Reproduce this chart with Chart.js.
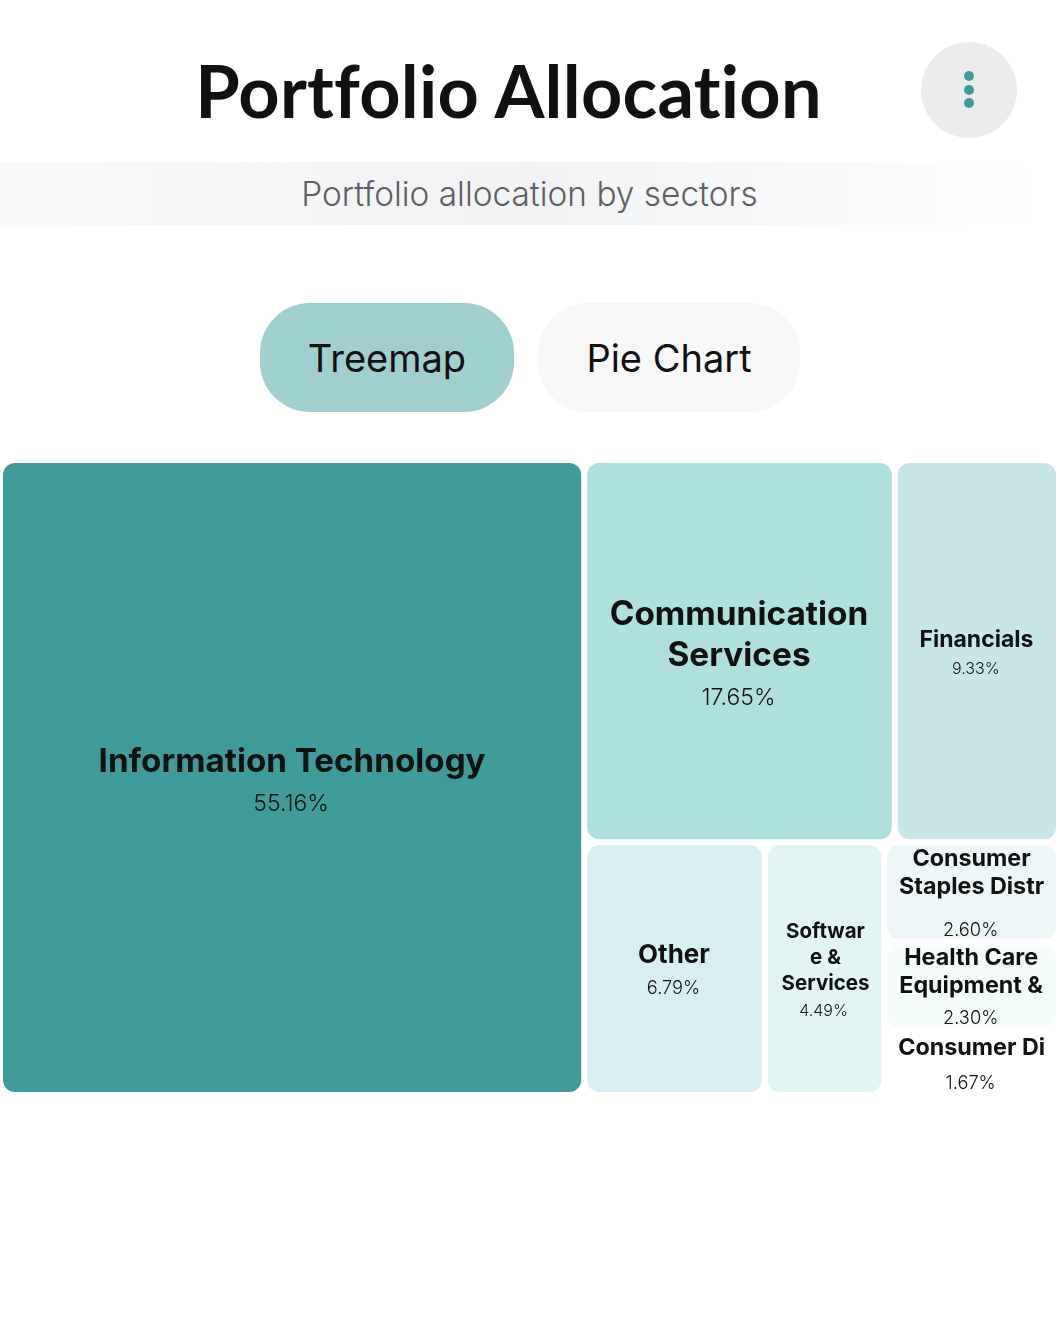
<!DOCTYPE html>
<html>
<head>
<meta charset="utf-8">
<title>Portfolio Allocation</title>
<script src="https://cdn.jsdelivr.net/npm/chart.js@4"></script>
<style>
    html, body { margin: 0; padding: 0; background: #fff; }
    body { position: relative; width: 1059px; height: 1318px; overflow: hidden; font-family: Inter, sans-serif; color: #111; }
    h1 { position: absolute; left: 0; width: 1017px; top: 45px; margin: 0; text-align: center; font: 700 72px/90px Lato, sans-serif; font-variant-ligatures: none; letter-spacing: 0.25px; }
    .menu { position: absolute; left: 921px; top: 42px; width: 96px; height: 96px; border-radius: 50%; background: #ebebeb; }
    .menu i { position: absolute; left: 43px; width: 10px; height: 10px; border-radius: 50%; background: #3f9c9b; }
    .sub { position: absolute; left: 0; top: 162px; width: 1059px; height: 63px; line-height: 65px; text-align: center; font-size: 33.4px; font-weight: 300; color: #5f5f5f;
        background: linear-gradient(90deg, #fafafb 0%, #f1f2f4 50%, #ffffff 98%); }
    .btn { position: absolute; top: 303px; height: 109px; line-height: 111px; border-radius: 50px; text-align: center; font-size: 38px; }
    #btnTree { left: 260px; width: 254px; background: #9fcfce; }
    #btnPie { left: 538px; width: 262px; background: #f8f8f8; }
    #treemap { position: absolute; left: 0; top: 460px; }
</style>
</head>
<body>
<h1>Portfolio Allocation</h1>
<div class="menu"><i style="top:29px"></i><i style="top:43px"></i><i style="top:56px"></i></div>
<div class="sub">Portfolio allocation by sectors</div>
<div class="btn" id="btnTree">Treemap</div>
<div class="btn" id="btnPie">Pie Chart</div>
<canvas id="treemap" width="1059" height="635"></canvas>

<script>
// Data
const categories = ['Information Technology', 'Communication Services', 'Financials', 'Other',
    'Software & Services', 'Consumer Staples Distr', 'Health Care Equipment &', 'Consumer Di'];
const shares = [55.16, 17.65, 9.33, 6.79, 4.49, 2.60, 2.30, 1.67];
const shareLabels = ['55.16%', '17.65%', '9.33%', '6.79%', '4.49%', '2.60%', '2.30%', '1.67%'];
// how the names wrap inside the cells ('' is a line that got clipped away)
const wrappedNames = [
    ['Information Technology'],
    ['Communication', 'Services'],
    ['Financials'],
    ['Other'],
    ['Softwar', 'e &', 'Services'],
    ['Consumer', 'Staples Distr', ''],
    ['Health Care', 'Equipment &'],
    ['Consumer Di']
];
// Nesting of the treemap, each level splits the other way
const tree = [0, [[1, 2], [3, 4, [5, 6, 7]]]];

const cellColors = ['#3e9b9a', '#aee0de', '#c6e7e6', '#d7eff0', '#e1f3f3', '#edf7f8', '#f5fcfc', '#ffffff'];
const nameFonts = [33.2, 33.4, 23, 26, 20.5, 23.3, 23.3, 23.3];
const nameLineHeights = [41, 41, 29, 33, 26, 28, 28, 30];
const shareFonts = [23, 23, 16, 18.3, 16, 18.3, 18.3, 18.3];
const shareGaps = [42, 42, 30, 33, 28, 15, 32, 35];
const labelShifts = [6, 5.5, 3.5, 3.5, 3, 2.5, 2, 3];
const nameNudges = [0, -0.5, -0.5, -0.5, 1, 0, -0.5, 0];

const CELL_GAP = 3;

function nodeTotal(node) {
    if (Array.isArray(node)) return node.reduce((sum, n) => sum + nodeTotal(n), 0);
    return shares[node];
}

// Slice and dice layout, in scale units (0-100 on both axes)
function layoutNode(node, x0, y0, x1, y1, horizontal, out) {
    if (!Array.isArray(node)) {
        out[node] = { x0, y0, x1, y1 };
        return;
    }
    const total = nodeTotal(node);
    let pos = horizontal ? x0 : y0;
    node.forEach(child => {
        const end = pos + ((horizontal ? x1 - x0 : y1 - y0) * nodeTotal(child)) / total;
        if (horizontal) layoutNode(child, pos, y0, end, y1, false, out);
        else layoutNode(child, x0, pos, x1, end, true, out);
        pos = end;
    });
}

// Chart.js has no treemap type, so this one places bar elements through the x and y scales
class TreemapController extends Chart.DatasetController {
    update(mode) {
        const meta = this._cachedMeta;
        this.updateElements(meta.data, 0, meta.data.length, mode);
    }

    updateElements(rects, start, count, mode) {
        const xScale = this.chart.scales.x;
        const yScale = this.chart.scales.y;
        const cells = [];
        layoutNode(tree, 0, 0, 100, 100, true, cells);

        for (let i = start; i < start + count; i++) {
            const cell = cells[i];
            const left = xScale.getPixelForValue(cell.x0) + CELL_GAP;
            const right = xScale.getPixelForValue(cell.x1) - CELL_GAP;
            const top = yScale.getPixelForValue(cell.y0) + CELL_GAP;
            const bottom = yScale.getPixelForValue(cell.y1) - CELL_GAP;
            this.updateElement(rects[i], i, {
                x: (left + right) / 2,
                y: top,
                base: bottom,
                width: right - left,
                height: bottom - top,
                horizontal: false,
                enableBorderRadius: true,
                borderSkipped: {},
                inflateAmount: 0,
                options: this.resolveDataElementOptions(i, mode)
            }, mode);
        }
    }
}
TreemapController.id = 'treemap';
TreemapController.defaults = { dataElementType: 'bar', datasetElementType: false };
Chart.register(TreemapController);

// Cell captions
const cellLabels = {
    id: 'cellLabels',
    afterDatasetsDraw(chart) {
        const ctx = chart.ctx;
        const rects = chart.getDatasetMeta(0).data;
        ctx.save();
        ctx.fillStyle = '#111111';
        ctx.textAlign = 'center';
        ctx.textBaseline = 'middle';
        rects.forEach((rect, i) => {
            const lines = wrappedNames[i];
            const lh = nameLineHeights[i];
            const blockHeight = lh * (lines.length - 1) + shareGaps[i];
            const centerY = rect.y + rect.height / 2;
            let y = centerY - blockHeight / 2 + labelShifts[i];
            ctx.font = '700 ' + nameFonts[i] + 'px Inter, sans-serif';
            lines.forEach((line, n) => {
                if (line) ctx.fillText(line, rect.x + nameNudges[i], y + n * lh);
            });
            ctx.font = '300 ' + shareFonts[i] + 'px Inter, sans-serif';
            ctx.fillText(shareLabels[i], rect.x - 1, y + (lines.length - 1) * lh + shareGaps[i]);
        });
        ctx.restore();
    }
};

new Chart(document.getElementById('treemap').getContext('2d'), {
    type: 'treemap',
    data: {
        labels: categories,
        datasets: [{
            label: 'Allocation',
            data: shares,
            backgroundColor: cellColors,
            borderWidth: 0,
            borderRadius: 12
        }]
    },
    options: {
        responsive: false,
        animation: false,
        layout: { padding: 0 },
        plugins: {
            legend: { display: false },
            tooltip: { enabled: false }
        },
        scales: {
            x: { type: 'linear', min: 0, max: 100, display: false },
            y: { type: 'linear', min: 0, max: 100, reverse: true, display: false }
        }
    },
    plugins: [cellLabels]
});
</script>
</body>
</html>
